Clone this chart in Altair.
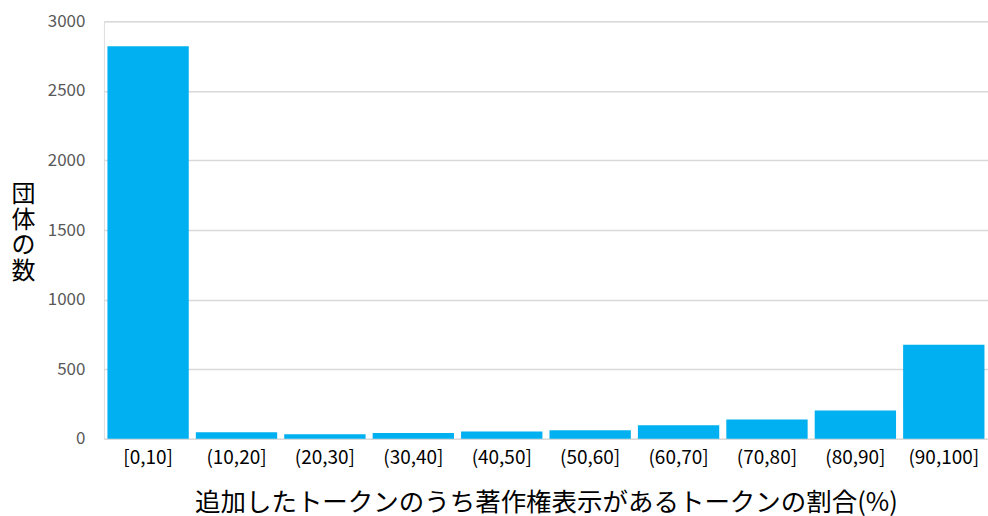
import altair as alt
import pandas as pd

categories = ["[0,10]", "(10,20]", "(20,30]", "(30,40]", "(40,50]",
              "(50,60]", "(60,70]", "(70,80]", "(80,90]", "(90,100]"]
counts = [2820, 47, 32, 41, 52, 61, 97, 138, 203, 675]
y_ticks = [0, 500, 1000, 1500, 2000, 2500, 3000]

df = pd.DataFrame({"range": categories, "count": counts})

FONT = "Noto Sans CJK JP"

chart = alt.Chart(df).mark_bar(color="#00b0f0").encode(
    x=alt.X("range:N", sort=categories,
            scale=alt.Scale(paddingInner=0.08, paddingOuter=0.04),
            axis=alt.Axis(title="追加したトークンのうち著作権表示があるトークンの割合(%)",
                          labelAngle=0, labelFontSize=19, labelColor="#000000",
                          labelFont=FONT, labelPadding=10, labelBaseline="top",
                          ticks=False, domain=False,
                          titleFont=FONT, titleFontSize=25.5, titleFontWeight="normal",
                          titleColor="#000000", titleBaseline="middle", titleY=64)),
    y=alt.Y("count:Q", scale=alt.Scale(domain=[0, 3000], nice=False),
            axis=alt.Axis(title=["団", "体", "の", "数"], titleAngle=0,
                          values=y_ticks, format="d",
                          labelFontSize=17, labelColor="#595959",
                          labelFont=FONT, labelPadding=19, ticks=False, domain=False,
                          gridColor="#d9d9d9", gridWidth=1.5,
                          titleFont=FONT, titleFontSize=24, titleFontWeight="normal",
                          titleColor="#000000", titleLineHeight=26,
                          titleAlign="center", titleBaseline="middle",
                          titleX=-81, titleY=173)),
).properties(
    width=885, height=418,
    autosize=alt.AutoSizeParams(type="none"),
    padding={"left": 104, "top": 21, "right": 0, "bottom": 77},
).configure_view(stroke=None).configure(background="white")

chart.save("out.html", embed_options={"renderer": "svg", "actions": False})
